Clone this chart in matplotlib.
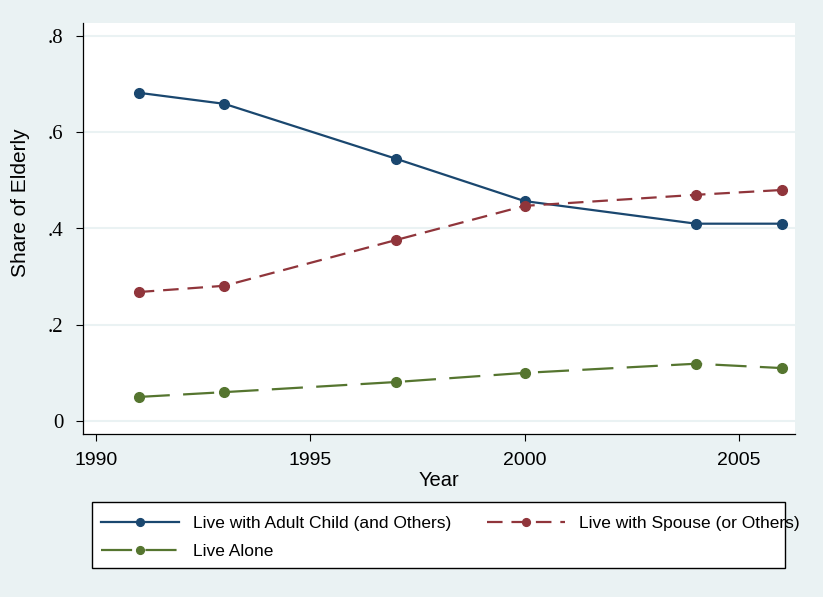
import matplotlib.pyplot as plt
from matplotlib.patches import Rectangle

years = [1991, 1993, 1997, 2000, 2004, 2006]
adult_child = [0.682, 0.659, 0.545, 0.457, 0.410, 0.410]
spouse = [0.268, 0.281, 0.376, 0.447, 0.470, 0.480]
alone = [0.050, 0.060, 0.081, 0.100, 0.119, 0.110]

y_ticks = [0, 0.2, 0.4, 0.6, 0.8]
y_tick_labels = ['0', '.2', '.4', '.6', '.8']
x_ticks = [1990, 1995, 2000, 2005]

bg = '#eaf2f3'
sans = ['Liberation Sans', 'DejaVu Sans']
serif = ['Liberation Serif', 'DejaVu Serif']

fig = plt.figure(figsize=(8.23, 5.97), dpi=100, facecolor=bg)
ax = fig.add_axes([83 / 823, 1 - 434 / 597, 712 / 823, 411 / 597])
ax.set_facecolor('white')

ax.plot(years, adult_child, color='#1a476f', lw=1.6, marker='o', ms=7,
        label='Live with Adult Child (and Others)')
ax.plot(years, spouse, color='#90353b', lw=1.6, marker='o', ms=7,
        dashes=(7, 4), label='Live with Spouse (or Others)')
ax.plot(years, alone, color='#55752f', lw=1.6, marker='o', ms=7,
        dashes=(14, 6), label='Live Alone')

ax.set_xlim(1989.70, 2006.31)
ax.set_ylim(-0.027, 0.827)
ax.set_yticks(y_ticks)
ax.set_yticklabels(y_tick_labels, fontfamily=serif, fontsize=15)
ax.set_xticks(x_ticks)
ax.set_xticklabels([str(x) for x in x_ticks], fontfamily=sans, fontsize=14)
ax.yaxis.grid(True, color=bg, lw=1.5)
ax.set_axisbelow(True)
ax.tick_params(direction='out', length=5, width=0.8, color='black')
ax.tick_params(axis='y', pad=9)
ax.tick_params(axis='x', pad=8)
for s in ['top', 'right']:
    ax.spines[s].set_visible(False)
for s in ['left', 'bottom']:
    ax.spines[s].set_color('black')
    ax.spines[s].set_linewidth(0.9)

ax.set_xlabel('Year', fontfamily=sans, fontsize=14.5, labelpad=1.5)
ax.set_ylabel('Share of Elderly', fontfamily=sans, fontsize=15)
ax.yaxis.set_label_coords(-0.075, 0.562)

# legend box, drawn by hand like stata's (text runs past its edge)
fig.patches.append(Rectangle((92 / 823, 1 - 568 / 597), 693 / 823, 66 / 597,
                             transform=fig.transFigure, facecolor='white',
                             edgecolor='black', lw=1))
h, l = ax.get_legend_handles_labels()
fig.legend([h[0], h[2], h[1]], [l[0], l[2], l[1]], ncol=2,
           loc='upper left', bbox_to_anchor=(92 / 823, 1 - 507 / 597),
           frameon=False, prop={'family': sans, 'size': 12.5},
           markerscale=0.8, handlelength=4.5, handletextpad=0.8,
           columnspacing=2.07, labelspacing=0.77, borderpad=0)

fig.savefig('out.png', dpi=100, facecolor=bg)
